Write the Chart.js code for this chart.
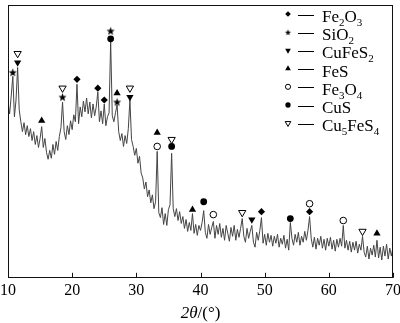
<!doctype html>
<html lang="zh">
<head>
    <meta charset="UTF-8">
    <title>XRD</title>
    <style>
        body { margin: 0; background: #fff; }
        #wrap { width: 400px; height: 323px; position: relative; }
    </style>
    <script src="https://cdn.jsdelivr.net/npm/chart.js"></script>
</head>
<body>
<div id="wrap"><canvas id="xrd"></canvas></div>

<script>
    // scan: 2theta from 10 to 70 deg, step 0.25
    const thetaStart = 10;
    const thetaStep = 0.25;
    const intensity = [
        178, 166, 184, 204, 163, 180, 213, 170, 158, 148, 157, 145, 154, 143, 151, 139, 148, 135, 144, 132,
        141, 153, 132, 141, 127, 120, 129, 121, 135, 125, 138, 129, 143, 152, 178, 148, 140, 154, 145, 159,
        150, 165, 158, 196, 156, 173, 163, 179, 168, 182, 166, 178, 162, 176, 164, 173, 188, 158, 169, 156,
        176, 154, 163, 167, 240, 164, 158, 167, 175, 148, 139, 146, 133, 144, 136, 151, 180, 140, 133, 124,
        131, 116, 123, 106, 101, 90, 97, 82, 89, 76, 84, 70, 77, 128, 66, 61, 71, 54, 65, 53,
        69, 74, 126, 70, 62, 70, 58, 67, 55, 62, 50, 59, 47, 56, 48, 65, 45, 54, 43, 53,
        48, 56, 68, 46, 40, 54, 44, 51, 57, 40, 53, 44, 55, 41, 50, 38, 53, 45, 37, 51,
        42, 53, 38, 49, 41, 50, 60, 42, 36, 50, 40, 47, 53, 36, 31, 46, 38, 48, 61, 35,
        44, 33, 45, 36, 43, 32, 42, 35, 44, 31, 40, 34, 43, 30, 39, 28, 56, 40, 33, 44,
        36, 46, 33, 42, 36, 47, 38, 48, 62, 40, 31, 41, 29, 40, 33, 42, 30, 39, 28, 40,
        32, 41, 29, 38, 27, 39, 31, 40, 32, 53, 30, 38, 28, 37, 26, 36, 28, 37, 25, 34,
        28, 42, 26, 21, 32, 19, 30, 23, 33, 21, 38, 20, 31, 18, 32, 22, 34, 19, 30, 22,
        31
    ];

    const seriesNames = ['Fe2O3', 'SiO2', 'CuFeS2', 'FeS', 'Fe3O4', 'CuS', 'Cu5FeS4'];

    // phase markers: [2theta, height]
    const fe2o3 = [[20.75, 201], [24.0, 192], [25.0, 180], [49.5, 67], [57.0, 67]];
    const sio2 = [[10.75, 208], [18.5, 183], [26.0, 250], [27.0, 178]];
    const cufes2 = [[11.5, 218], [29.0, 183], [48.0, 59]];
    const fes = [[15.25, 159], [27.0, 187], [33.25, 147], [38.75, 69], [67.5, 45]];
    const fe3o4 = [[33.25, 133], [42.0, 64], [57.0, 75], [62.25, 58]];
    const cus = [[26.0, 242], [35.5, 133], [40.5, 77], [54.0, 60]];
    const cu5fes4 = [[11.5, 227], [18.5, 192], [29.0, 192], [35.5, 140], [46.5, 66], [65.25, 47]];

    const xTicks = [10, 20, 30, 40, 50, 60, 70];

    const serif = '"Liberation Serif", "Times New Roman", serif';

    function starImage(r) {
        const s = Math.ceil(r * 2 + 2);
        const c = document.createElement('canvas');
        c.width = s; c.height = s;
        const g = c.getContext('2d');
        g.fillStyle = '#000';
        g.beginPath();
        for (let i = 0; i < 10; i++) {
            const rr = i % 2 === 0 ? r : r * 0.42;
            const a = -Math.PI / 2 + i * Math.PI / 5;
            g.lineTo(s / 2 + rr * Math.cos(a), s / 2 + 0.4 + rr * Math.sin(a));
        }
        g.closePath();
        g.fill();
        return c;
    }
    const starBig = starImage(4.3);
    const starSmall = starImage(3.2);

    // marker styles per phase (same order as seriesNames)
    const styles = [
        { pointStyle: 'rectRot', rotation: 0, radius: 3.6, fill: '#000' },
        { pointStyle: starBig, legendStyle: starSmall, rotation: 0, radius: 4, fill: '#000' },
        { pointStyle: 'triangle', rotation: 180, radius: 4.2, fill: '#000' },
        { pointStyle: 'triangle', rotation: 0, radius: 4.2, fill: '#000' },
        { pointStyle: 'circle', rotation: 0, radius: 3.3, fill: '#fff' },
        { pointStyle: 'circle', rotation: 0, radius: 3.4, fill: '#000' },
        { pointStyle: 'triangle', rotation: 180, radius: 4.2, fill: '#fff' }
    ];
    const markerSets = [fe2o3, sio2, cufes2, fes, fe3o4, cus, cu5fes4];

    const scan = intensity.map((v, i) => ({ x: thetaStart + i * thetaStep, y: v }));

    const datasets = [{
        label: 'XRD',
        data: scan,
        borderColor: '#454545',
        borderWidth: 1,
        pointRadius: 0,
        tension: 0,
        order: 10
    }];
    markerSets.forEach((set, k) => {
        const st = styles[k];
        datasets.push({
            label: seriesNames[k],
            type: 'scatter',
            data: set.map(p => ({ x: p[0], y: p[1] })),
            pointStyle: st.pointStyle,
            rotation: st.rotation,
            pointRadius: st.radius,
            pointBackgroundColor: st.fill,
            pointBorderColor: '#000',
            pointBorderWidth: st.fill === '#fff' ? 1 : 0,
            showLine: false,
            order: 1
        });
    });

    function drawFormula(ctx, text, x, baseline, size) {
        let cx = x;
        for (const ch of text) {
            const sub = /[0-9]/.test(ch);
            ctx.font = (sub ? Math.round(size * 0.66) : size) + 'px ' + serif;
            ctx.fillText(ch, cx, baseline + (sub ? 4 : 0));
            cx += ctx.measureText(ch).width;
        }
    }

    const decor = {
        id: 'decor',
        afterDraw(chart) {
            const ctx = chart.ctx;
            const a = chart.chartArea;
            const xs = chart.scales.x;
            ctx.save();
            // frame
            ctx.strokeStyle = '#111';
            ctx.lineWidth = 1;
            ctx.strokeRect(Math.round(a.left) + 0.5, Math.round(a.top) + 0.5,
                Math.round(a.right - a.left) - 1, Math.round(a.bottom - a.top) - 1);
            // inward ticks
            ctx.beginPath();
            xTicks.forEach(t => {
                const px = Math.round(xs.getPixelForValue(t)) + 0.5;
                ctx.moveTo(px, a.bottom);
                ctx.lineTo(px, a.bottom - 5);
            });
            ctx.stroke();

            // legend
            ctx.textBaseline = 'alphabetic';
            seriesNames.forEach((name, k) => {
                const rowY = 15.5 + k * 18.2;
                const st = styles[k];
                ctx.fillStyle = st.fill;
                ctx.strokeStyle = '#000';
                Chart.helpers.drawPoint(ctx, {
                    pointStyle: st.legendStyle || st.pointStyle,
                    rotation: st.rotation,
                    radius: st.radius * 0.78,
                    borderWidth: st.fill === '#fff' ? 1 : 0
                }, 288, rowY - 1.5);
                ctx.fillStyle = '#000';
                ctx.fillRect(298, Math.round(rowY) - 1, 16, 1);
                drawFormula(ctx, name, 322, rowY + 6.5, 17);
            });

            // axis title
            const cx = (a.left + a.right) / 2;
            ctx.font = 'italic 17px ' + serif;
            const w1 = ctx.measureText('2θ').width;
            ctx.font = '17px ' + serif;
            const w2 = ctx.measureText('/(°)').width;
            const x0 = cx - (w1 + w2) / 2;
            ctx.font = 'italic 17px ' + serif;
            ctx.fillText('2θ', x0, 318);
            ctx.font = '17px ' + serif;
            ctx.fillText('/(°)', x0 + w1, 318);
            ctx.restore();
        }
    };

    new Chart(document.getElementById('xrd'), {
        type: 'line',
        data: { datasets: datasets },
        options: {
            responsive: true,
            maintainAspectRatio: false,
            animation: false,
            layout: { padding: { top: 1, bottom: 20, left: 0, right: 0 } },
            plugins: { legend: { display: false }, tooltip: { enabled: false } },
            scales: {
                x: {
                    type: 'linear',
                    min: 10,
                    max: 70,
                    afterBuildTicks: s => { s.ticks = xTicks.map(v => ({ value: v })); },
                    afterFit: s => { s.paddingLeft = 8; s.paddingRight = 7; },
                    ticks: { padding: 3, color: '#000', font: { family: serif, size: 16 } },
                    grid: { display: false, drawTicks: false },
                    border: { display: false }
                },
                y: { display: false, min: 0, max: 276 }
            }
        },
        plugins: [decor]
    });
</script>
</body>
</html>
